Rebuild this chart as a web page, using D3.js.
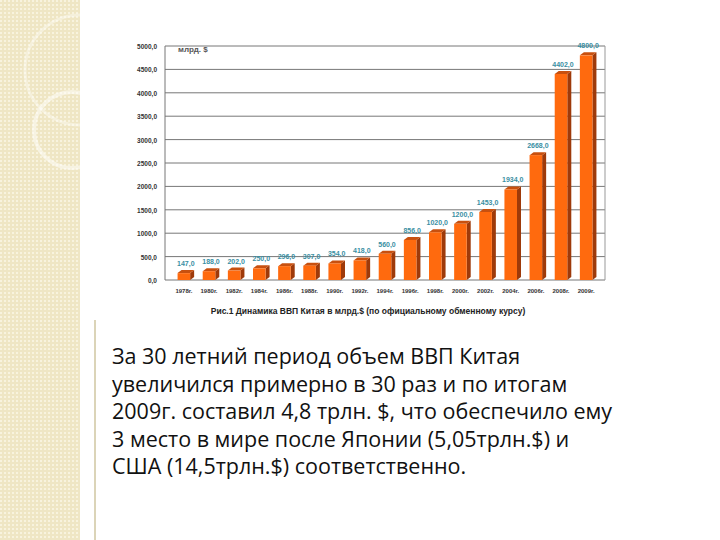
<!DOCTYPE html><html><head><meta charset="utf-8"><script src="https://d3js.org/d3.v7.min.js"></script>
<style>body{margin:0;background:#fff}</style></head><body><svg id="c" width="720" height="540"></svg>
<script>
const years=["1978г.","1980г.","1982г.","1984г.","1986г.","1988г.","1990г.","1992г.","1994г.","1996г.","1998г.","2000г.","2002г.","2004г.","2006г.","2008г.","2009г."];
const values=[147,188,202,250,296,307,354,418,560,856,1020,1200,1453,1934,2668,4402,4800];
const yTicks=[0,500,1000,1500,2000,2500,3000,3500,4000,4500,5000];
const svg=d3.select("#c");
const defs=svg.append("defs");
const p=defs.append("pattern").attr("id","pt").attr("width",4).attr("height",4).attr("patternUnits","userSpaceOnUse");
p.append("rect").attr("width",4).attr("height",4).attr("fill","#efe6c4");
p.append("rect").attr("width",2).attr("height",2).attr("fill","#f8f3de");
svg.append("rect").attr("x",0).attr("y",0).attr("width",80).attr("height",540).attr("fill","url(#pt)");
svg.append("circle").attr("cx",72).attr("cy",130).attr("r",38).attr("fill","none").attr("stroke","#fff").attr("stroke-width",4).attr("opacity",0.5);
svg.append("circle").attr("cx",80).attr("cy",70).attr("r",55).attr("fill","none").attr("stroke","#fff").attr("stroke-width",3).attr("opacity",0.4);
svg.append("line").attr("x1",95).attr("x2",95).attr("y1",320).attr("y2",540).attr("stroke","#cfc6a0").attr("stroke-width",1.5);
const x=d3.scaleBand().domain(years).range([165,605]).padding(0.5);
const y=d3.scaleLinear().domain([0,5000]).range([280,46]);
const g=svg.append("g");
g.selectAll(".gl").data(yTicks).join("line").attr("x1",165).attr("x2",605).attr("y1",d=>y(d)).attr("y2",d=>y(d)).attr("stroke","#777").attr("stroke-width",1);
g.append("line").attr("x1",165).attr("x2",165).attr("y1",y(5000)).attr("y2",y(0)).attr("stroke","#777");
g.append("line").attr("x1",605).attr("x2",605).attr("y1",y(5000)).attr("y2",y(0)).attr("stroke","#999");
g.selectAll(".yl").data(yTicks).join("text").attr("x",157).attr("y",d=>y(d)+3).attr("text-anchor","end").attr("font-family","Liberation Sans").attr("font-weight","bold").attr("font-size",6.5).attr("fill","#333").text(d=>d3.format(".1f")(d).replace(".",","));
svg.append("text").attr("x",178).attr("y",52).attr("font-family","Liberation Sans").attr("font-weight","bold").attr("font-size",8).attr("fill","#555").text("млрд. $");
const w=x.bandwidth(),dx=4,dy=3;
const bars=g.selectAll(".b").data(values).join("g");
bars.append("path").attr("d",(d,i)=>{const x0=x(years[i])+w,y0=y(d);return `M${x0},${y0}L${x0+dx},${y0-dy}L${x0+dx},${y(0)-dy}L${x0},${y(0)}Z`}).attr("fill","#9e3a0a");
bars.append("path").attr("d",(d,i)=>{const x0=x(years[i]),y0=y(d);return `M${x0},${y0}L${x0+dx},${y0-dy}L${x0+w+dx},${y0-dy}L${x0+w},${y0}Z`}).attr("fill","#c8500f");
bars.append("rect").attr("x",(d,i)=>x(years[i])).attr("y",d=>y(d)).attr("width",w).attr("height",d=>y(0)-y(d)).attr("fill","#ff6a0e");
bars.append("text").attr("x",(d,i)=>x(years[i])+w/2+2).attr("y",d=>y(d)-7).attr("text-anchor","middle").attr("font-family","Liberation Sans").attr("font-weight","bold").attr("font-size",7).attr("fill","#3a8fa3").text(d=>d3.format(".1f")(d).replace(".",","));
g.selectAll(".xl").data(years).join("text").attr("x",d=>x(d)+w/2).attr("y",293).attr("text-anchor","middle").attr("font-family","Liberation Sans").attr("font-weight","bold").attr("font-size",6).attr("fill","#333").text(d=>d);
svg.append("text").attr("x",368).attr("y",314).attr("text-anchor","middle").attr("font-family","Liberation Sans").attr("font-weight","bold").attr("font-size",8.5).attr("fill","#222").text("Рис.1 Динамика ВВП Китая в млрд.$ (по официальному обменному курсу)");
const lines=["За 30 летний период объем ВВП Китая","увеличился примерно в 30 раз и по итогам","2009г. составил 4,8 трлн. $, что обеспечило ему","3 место в мире после Японии (5,05трлн.$) и","США (14,5трлн.$) соответственно."];
svg.selectAll(".t").data(lines).join("text").attr("x",112).attr("y",(d,i)=>364+i*27.5).attr("font-family","Open Sans").attr("font-size",21.5).attr("fill","#111").text(d=>d);
</script></body></html>
